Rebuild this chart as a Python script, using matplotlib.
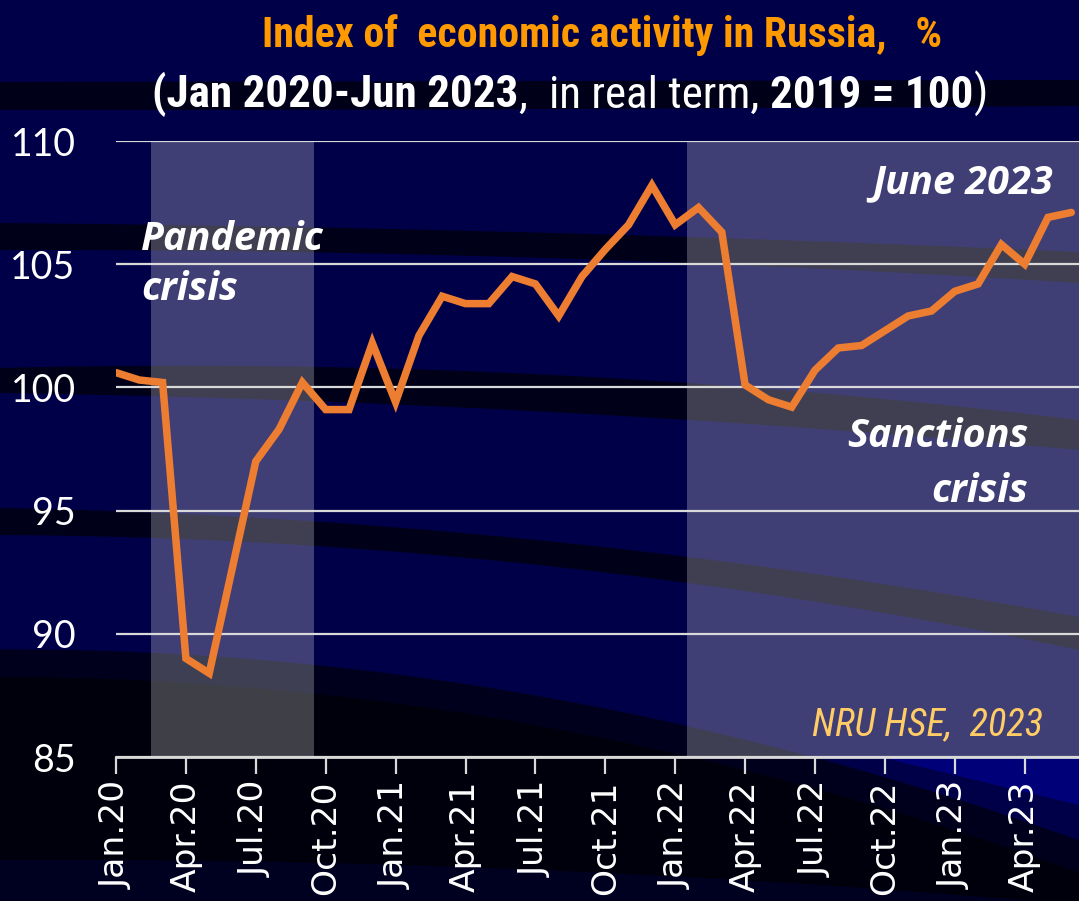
import numpy as np
import matplotlib
matplotlib.use("Agg")
import matplotlib.pyplot as plt
from matplotlib import font_manager as fm

# ---------------- data ----------------
values = [100.6, 100.3, 100.2, 89.0, 88.4, 92.7, 97.0, 98.3, 100.2, 99.1, 99.1, 101.8,
          99.4, 102.1, 103.7, 103.4, 103.4, 104.5, 104.2, 102.9, 104.5, 105.6, 106.6, 108.2,
          106.6, 107.3, 106.3, 100.1, 99.5, 99.2, 100.7, 101.6, 101.7, 102.3, 102.9, 103.1,
          103.9, 104.2, 105.8, 105.0, 106.9, 107.1]
tick_labels = ['Jan.20', 'Apr.20', 'Jul.20', 'Oct.20', 'Jan.21', 'Apr.21', 'Jul.21', 'Oct.21',
               'Jan.22', 'Apr.22', 'Jul.22', 'Oct.22', 'Jan.23', 'Apr.23']
y_ticks = [85, 90, 95, 100, 105, 110]
pandemic_span = (1.5, 8.5)
sanctions_start = 24.5

# ---------------- fonts ----------------
ttf = fm.fontManager.ttflist
names = {f.name for f in ttf}
NARROW = dict(fontfamily='Liberation Sans')
for cand in ['Liberation Sans Narrow', 'Roboto Condensed', 'Open Sans Condensed',
             'DejaVu Sans Condensed']:
    if cand in names:
        NARROW = dict(fontfamily=cand)
        break
else:
    if any(f.name == 'DejaVu Sans' and f.stretch == 'condensed' for f in ttf):
        NARROW = dict(fontfamily='DejaVu Sans', fontstretch='condensed')
ANNO = 'Open Sans' if 'Open Sans' in names else 'DejaVu Sans'
TICKF = 'Lato' if 'Lato' in names else 'DejaVu Sans'

W, H = 1079, 901
fig = plt.figure(figsize=(W / 100, H / 100), dpi=100, facecolor='#000048')
renderer = fig.canvas.get_renderer()

# ---------------- background decoration (pixel space) ----------------
bg = fig.add_axes([0, 0, 1, 1])
bg.set_xlim(0, W)
bg.set_ylim(H, 0)
bg.axis('off')
xs = np.linspace(0, W, 400)


def curve(pts, deg=2):
    px, py = zip(*pts)
    c = np.polyfit(px, py, deg)
    return np.polyval(c, xs)


# brighter blue wedge below the axis at the right
wedge = np.interp(xs, [880, 1079], [757, 805])
bg.fill_between(xs, 757, np.maximum(wedge, 757), color='#000078', lw=0)
dark = '#000018'
bands = [
    ([(0, 82), (540, 81), (1079, 80)], [(0, 110), (540, 109), (1079, 106)]),
    ([(0, 223), (688, 237), (1079, 252)], [(0, 250), (688, 263), (1079, 283)]),
    ([(0, 368), (688, 383), (1079, 420)], [(0, 393), (688, 420), (1079, 450)]),
    ([(0, 508), (688, 557), (1079, 617)], [(0, 535), (688, 583), (1079, 650)]),
]
for top, bot in bands:
    bg.fill_between(xs, curve(top), curve(bot), color=dark, lw=0)
outer = curve([(0, 650), (310, 663), (600, 708), (688, 727), (1079, 840)])
inner = curve([(0, 677), (310, 692), (600, 737), (688, 757), (1079, 872)])
bg.fill_between(xs, outer, inner, color='#00001C', lw=0)
bg.fill_between(xs, inner, H + 50, color='#00000C', lw=0)
lowest = curve([(0, 860), (540, 870), (1079, 905)])
bg.fill_between(xs, np.maximum(lowest, inner), H + 50, color='#000020', lw=0)

# ---------------- main axes ----------------
left, right, top_px, bot_px = 116, 1079, 141, 757
ax = fig.add_axes([left / W, 1 - bot_px / H, (right - left) / W, (bot_px - top_px) / H])
ax.patch.set_alpha(0)
x = np.arange(len(values))
xmax = (right - left) / 23.3
ax.set_xlim(0, xmax)
ax.set_ylim(85, 110)

ax.axvspan(*pandemic_span, color='white', alpha=0.25, lw=0, zorder=0.3)
ax.axvspan(sanctions_start, xmax, color='white', alpha=0.25, lw=0, zorder=0.3)
ax.plot(x, values, color='#ED7D31', lw=5.4, solid_joinstyle='miter', solid_capstyle='round', zorder=3)

ax.set_yticks(y_ticks)
ax.set_yticklabels([str(v) for v in y_ticks], fontfamily=TICKF, fontsize=27, color='white')
ax.yaxis.grid(True, color='#D9D9D9', lw=1.6)
ax.tick_params(axis='y', length=0, pad=29)
ax.set_xticks(np.arange(0, len(values), 3))
ax.set_xticklabels(tick_labels, rotation=90, fontsize=24.8, color='white', fontfamily='DejaVu Sans')
ax.tick_params(axis='x', length=12, width=1.6, color='#D9D9D9', pad=5)
for s in ['left', 'right', 'top']:
    ax.spines[s].set_visible(False)
ax.spines['bottom'].set_color('#D9D9D9')
ax.spines['bottom'].set_linewidth(2)

# ---------------- texts (pixel space) ----------------
tt = fig.add_axes([0, 0, 1, 1], zorder=5)
tt.set_xlim(0, W)
tt.set_ylim(H, 0)
tt.axis('off')


def fit_width(texts, target):
    """Scale font size of a group of texts so that their joint width equals target px."""
    bbs = [t.get_window_extent(renderer) for t in texts]
    width = max(b.x1 for b in bbs) - min(b.x0 for b in bbs)
    for t in texts:
        t.set_fontsize(t.get_fontsize() * target / width)


title = tt.text(602, 47, 'Index of  economic activity in Russia,   %', color='#FF9900',
                fontweight='bold', fontsize=29, ha='center', va='baseline', **NARROW)
fit_width([title], 679)

pieces = [('(Jan 2020-Jun 2023', 'bold', 0), (',', 'normal', 0), ('in real term,', 'normal', 2),
          ('2019 = 100', 'bold', 1), (')', 'normal', 0)]
fs = 31
sub = [tt.text(152, 107, pieces[0][0], color='white', fontweight=pieces[0][1], fontsize=fs,
               ha='left', va='baseline', **NARROW)]
for txt, wt, nsp in pieces[1:]:
    sub.append(tt.annotate(txt, xy=(1, 0), xycoords=sub[-1], xytext=(nsp * 0.24 * fs, 0),
                           textcoords='offset points', color='white', fontweight=wt,
                           fontsize=fs, ha='left', va='bottom', **NARROW))
for _ in range(3):
    bbs = [t.get_window_extent(renderer) for t in sub]
    width = bbs[-1].x1 - bbs[0].x0
    fs *= 836 / width
    for t, (txt, wt, nsp) in zip(sub, pieces):
        t.set_fontsize(fs)
        if t is not sub[0]:
            t.xyann = (nsp * 0.24 * fs, 0)

anno = dict(color='white', fontfamily=ANNO, fontweight='bold', fontstyle='italic', fontsize=28.5,
            va='baseline')
tt.text(141, 250, 'Pandemic', ha='left', **anno)
tt.text(141, 300, 'crisis', ha='left', **anno)
tt.text(1053, 193, 'June 2023', ha='right', **anno)
tt.text(1028, 447, 'Sanctions', ha='right', **anno)
tt.text(1028, 502, 'crisis', ha='right', **anno)
nru = tt.text(1043, 735, 'NRU HSE,  2023', ha='right', va='baseline', color='#FFCC66',
              fontstyle='italic', fontsize=27, **NARROW)
fit_width([nru], 231)

fig.savefig('out.png', dpi=100, facecolor=fig.get_facecolor())
